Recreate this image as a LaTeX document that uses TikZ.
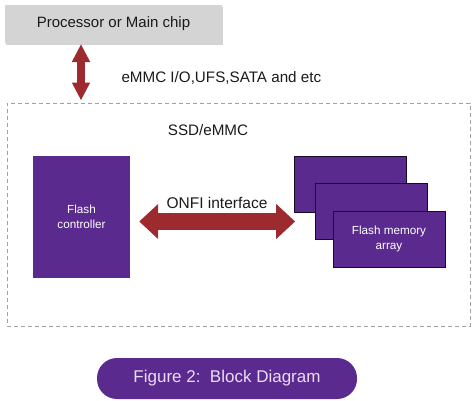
\documentclass[tikz,border=0pt]{standalone}
\usepackage{fontspec}
\setmainfont{Liberation Sans}
\usetikzlibrary{arrows.meta,shadows}
\definecolor{pur}{HTML}{5B2A8E}
\definecolor{darkred}{HTML}{9C2A2F}
\definecolor{boxgray}{HTML}{D4D4D4}
\definecolor{dashgray}{HTML}{A0A0A0}
\definecolor{lav}{HTML}{EADCF4}
\definecolor{txt}{HTML}{1A1A1A}
\tikzset{
  blk/.style={draw=none, fill=pur, text=white, align=center, inner sep=0pt},
  memblk/.style={draw=black!75!pur, line width=0.8pt, fill=pur, text=white, align=center, inner sep=0pt, minimum width=112pt, minimum height=56pt},
  fatarrow/.style={draw=darkred, line width=#1},
  lbl/.style={text=txt, font=\fontsize{15.2}{18}\selectfont},
}
\begin{document}
\begin{tikzpicture}[x=1pt,y=-1pt]
\useasboundingbox (0,0) rectangle (473,400);
% processor
\node[fill=boxgray, minimum width=217pt, minimum height=38pt, inner sep=0pt,
  drop shadow={opacity=0.35, shadow xshift=1.2pt, shadow yshift=-1.8pt},
  lbl, font=\fontsize{15}{18}\selectfont] (proc) at (113.5,24) {Processor or Main chip};
% dashed container
\node[draw=dashgray, dashed, dash pattern=on 4pt off 3pt, line width=0.7pt, minimum width=463pt, minimum height=223pt, inner sep=0pt] (ssd) at (238.5,214.5) {};
\node[lbl] (ssdlbl) at (208,130) {SSD/eMMC};
% vertical arrow
\coordinate (va) at (81,44);
\coordinate (vb) at (81,100.5);
\draw[fatarrow=7.5pt, {Triangle[length=18pt,width=17pt]}-{Triangle[length=18pt,width=17pt]}] (va) -- (vb);
\node[lbl, anchor=west] (iflbl) at (118,78) {eMMC I/O,UFS,SATA and etc};
% flash controller
\node[blk, minimum width=97pt, minimum height=122pt, font=\fontsize{11.7}{15}\selectfont] (ctrl) at (81.5,217) {Flash\\controller};
% memory array
\node[memblk] (m1) at (350.5,184) {};
\node[memblk] (m2) at (371,211) {};
\node[memblk, font=\fontsize{11.7}{15}\selectfont] (m3) at (389,239) {Flash memory\\array};
% ONFI arrow
\coordinate (oa) at ([xshift=9pt,yshift=-4.5pt]ctrl.east);
\coordinate (ob) at (m1.west |- oa);
\draw[fatarrow=17pt, {Triangle[length=19pt,width=34pt]}-{Triangle[length=19pt,width=34pt]}] (oa) -- ([xshift=1pt]ob);
\node[lbl, font=\fontsize{15.5}{18}\selectfont] (onfi) at (217,203) {ONFI interface};
% caption
\node[fill=pur, rounded corners=20pt, minimum width=260pt, minimum height=41pt, inner sep=0pt, text=lav, font=\fontsize{17}{20}\selectfont] (cap) at (227,378.5) {Figure 2:\ \ Block Diagram};
\end{tikzpicture}
\end{document}
